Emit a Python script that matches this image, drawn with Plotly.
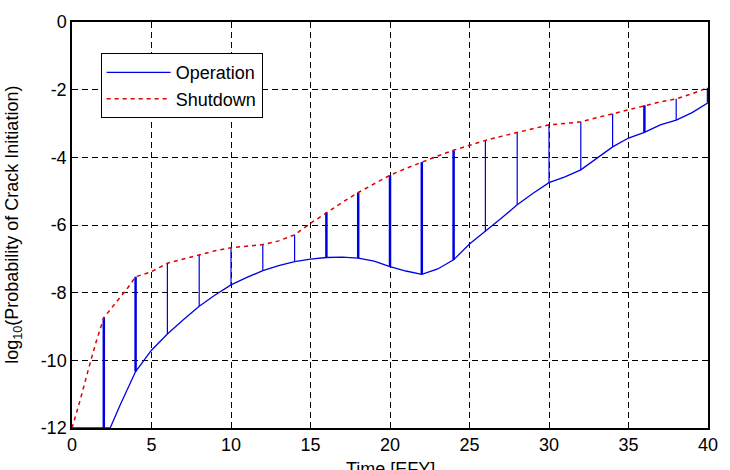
import plotly.graph_objects as go

# Shutdown series (red dashed)
shut_x = [0, 0.5, 1, 1.5, 2, 2.5, 3, 3.5, 4, 5, 6, 7, 8, 9, 10, 11, 12, 13, 14, 15,
          16, 17, 18, 19, 20, 21, 22, 23, 24, 25, 26, 27, 28, 29, 30, 31, 32, 33, 34,
          35, 36, 37, 38, 39, 40]
shut_y = [-12, -11.2, -10.32, -9.48, -8.74, -8.45, -8.15, -7.86, -7.53, -7.38, -7.13,
          -7.0, -6.88, -6.76, -6.67, -6.63, -6.58, -6.47, -6.29, -5.95, -5.63, -5.33,
          -5.04, -4.78, -4.53, -4.33, -4.14, -3.96, -3.79, -3.64, -3.50, -3.38, -3.26,
          -3.15, -3.04, -3.0, -2.95, -2.83, -2.71, -2.58, -2.46, -2.36, -2.27, -2.12, -1.94]

# Operation series (blue solid)
op_x = [0, 2, 2.4, 3, 4, 5, 6, 7, 8, 9, 10, 11, 12, 13, 14, 15, 16, 17, 18, 19, 20,
        21, 22, 23, 24, 25, 26, 27, 28, 29, 30, 31, 32, 33, 34, 35, 36, 37, 38, 39, 40]
op_y = [-12, -12, -12, -11.35, -10.33, -9.7, -9.22, -8.8, -8.40, -8.07, -7.77, -7.55,
        -7.35, -7.2, -7.08, -7.01, -6.96, -6.95, -6.98, -7.07, -7.23, -7.36, -7.46,
        -7.3, -7.03, -6.56, -6.19, -5.8, -5.40, -5.06, -4.75, -4.58, -4.37, -4.03,
        -3.69, -3.43, -3.26, -3.04, -2.90, -2.68, -2.39]

# Times where the vertical connectors are drawn
stem_x = [2, 4, 6, 8, 10, 12, 14, 16, 18, 20, 22, 24, 26, 28, 30, 32, 34, 36, 38, 40]
thick_stems = {2, 4, 16, 18, 20, 22, 24, 36, 40}

x_ticks = [0, 5, 10, 15, 20, 25, 30, 35, 40]
x_tick_labels = ["0", "5", "10", "15", "20", "25", "30", "35", "40"]
y_ticks = [-12, -10, -8, -6, -4, -2, 0]
y_tick_labels = ["-12", "-10", "-8", "-6", "-4", "-2", "0"]

BLUE = "#0000e6"
RED = "#dd0000"
FONT = "Liberation Sans, Arial, sans-serif"

shut_map = dict(zip(shut_x, shut_y))
op_map = dict(zip(op_x, op_y))

fig = go.Figure()

for thick in (True, False):
    xs, ys = [], []
    for t in stem_x:
        if (t in thick_stems) == thick:
            xs += [t, t, None]
            ys += [op_map[t], shut_map[t], None]
    fig.add_trace(go.Scatter(x=xs, y=ys, mode="lines", showlegend=False,
                             line=dict(color=BLUE, width=2.5 if thick else 1.2),
                             hoverinfo="skip"))

fig.add_trace(go.Scatter(x=op_x, y=op_y, mode="lines", name="Operation",
                         line=dict(color=BLUE, width=1.3)))
fig.add_trace(go.Scatter(x=shut_x, y=shut_y, mode="lines", name="Shutdown",
                         line=dict(color=RED, width=1.5, dash="4px,4px")))

axis_common = dict(
    showline=True, linecolor="black", linewidth=1.5, mirror="allticks",
    ticks="inside", ticklen=5, tickcolor="black",
    showgrid=True, gridcolor="black", gridwidth=1, griddash="6px,4px",
    zeroline=False,
    tickfont=dict(family=FONT, size=18, color="black"),
)

fig.update_xaxes(range=[0, 40], tickvals=x_ticks, ticktext=x_tick_labels, **axis_common)
fig.update_yaxes(range=[-12, 0], tickvals=y_ticks, ticktext=y_tick_labels, **axis_common)

fig.update_layout(
    width=730, height=470,
    margin=dict(l=72, r=14, t=12, b=42),
    plot_bgcolor="white", paper_bgcolor="white",
    font=dict(family=FONT, size=18, color="black"),
    legend=dict(x=29 / 644, y=(428 - 44) / 416, xanchor="left", yanchor="top",
                bgcolor="white", bordercolor="black", borderwidth=1,
                itemwidth=64, tracegroupgap=0,
                font=dict(family=FONT, size=18)),
    annotations=[
        dict(text="log<sub>10</sub>(Probability of Crack Initiation)",
             xref="paper", yref="paper", x=-60 / 644, y=0.5,
             xanchor="center", yanchor="middle", textangle=-90,
             showarrow=False, font=dict(family=FONT, size=18)),
        dict(text="Time [EFY]", xref="paper", yref="paper",
             x=0.5, y=-30 / 416, xanchor="center", yanchor="top",
             showarrow=False, font=dict(family=FONT, size=18)),
    ],
)

fig.write_html("out.html")
